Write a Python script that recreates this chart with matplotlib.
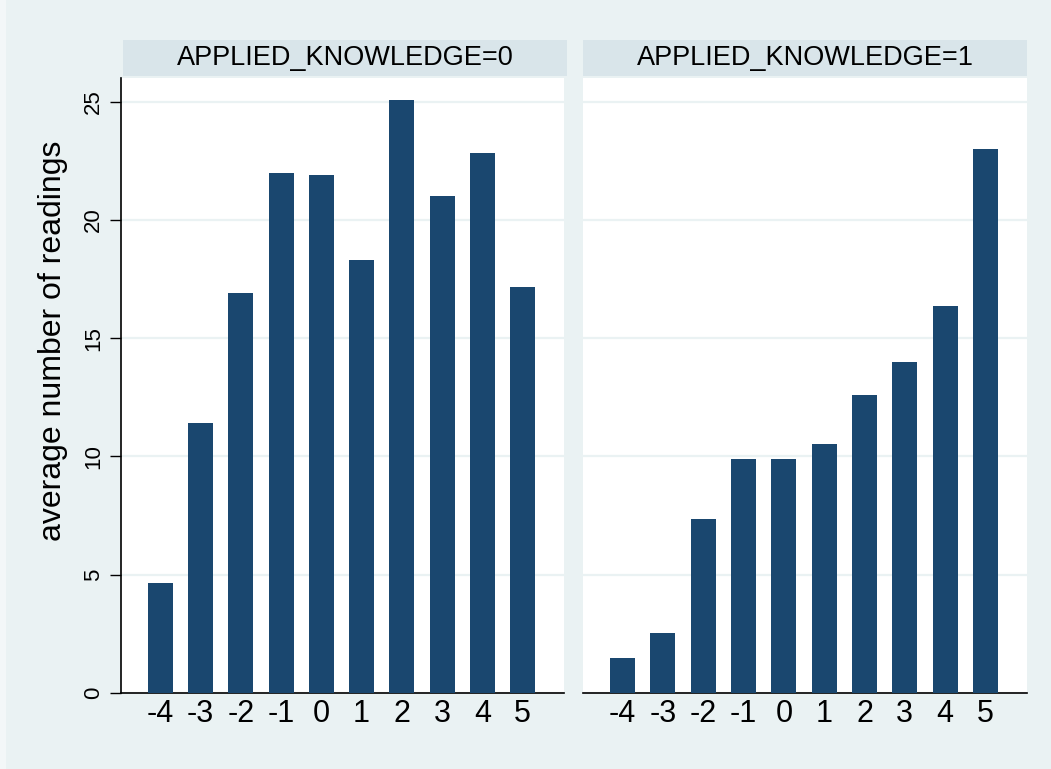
import matplotlib
matplotlib.use('Agg')
import matplotlib.pyplot as plt
import matplotlib.patches as patches

plt.rcParams['font.family'] = ['Liberation Sans', 'DejaVu Sans']

# 数据: 两个分组的平均阅读次数
categories = [-4, -3, -2, -1, 0, 1, 2, 3, 4, 5]
readings_k0 = [4.65, 11.42, 16.91, 22.0, 21.91, 18.29, 25.05, 21.0, 22.84, 17.15]
readings_k1 = [1.48, 2.54, 7.36, 9.90, 9.90, 10.53, 12.58, 13.99, 16.38, 22.98]
panel_titles = ['APPLIED_KNOWLEDGE=0', 'APPLIED_KNOWLEDGE=1']
y_ticks = [0, 5, 10, 15, 20, 25]

bg = '#EAF2F3'
strip = '#D9E5EA'
navy = '#1A476F'
W, H = 1051, 769

fig = plt.figure(figsize=(W / 100, H / 100), dpi=100, facecolor=bg)
# 左边一条很窄的浅色边
fig.patches.append(patches.Rectangle((0, 0), 6 / W, 1, transform=fig.transFigure,
                                     facecolor='#F3F7F8', edgecolor='none'))


def px(x0, y0, x1, y1):
    # 像素坐标 -> figure 比例
    return [x0 / W, (H - y1) / H, (x1 - x0) / W, (y1 - y0) / H]


panels = [(121, 564, readings_k0), (583, 1027, readings_k1)]
for i, (x0, x1, vals) in enumerate(panels):
    ax = fig.add_axes(px(x0, 78, x1, 693), facecolor='white')
    ax.bar(categories, vals, width=0.62, color=navy, zorder=3)
    ax.set_xlim(-4.98, 6.03)
    ax.set_ylim(0, 26)
    ax.set_yticks(y_ticks)
    ax.grid(axis='y', color=bg, linewidth=1.6, zorder=1)
    ax.set_xticks(categories)
    ax.set_xticklabels([str(c) for c in categories], fontsize=22)
    ax.tick_params(axis='x', length=0, pad=4)
    for s in ['top', 'right']:
        ax.spines[s].set_visible(False)
    ax.spines['bottom'].set_linewidth(1.2)
    if i == 0:
        ax.spines['left'].set_linewidth(1.2)
        ax.tick_params(axis='y', length=8, width=1.0, pad=4)
        ax.set_yticklabels([str(t) for t in y_ticks], fontsize=16,
                           rotation=90, va='center')
        ax.set_ylabel('average number of readings', fontsize=23)
        ax.yaxis.set_label_coords(-0.12, 0.572)
    else:
        ax.spines['left'].set_visible(False)
        ax.tick_params(axis='y', length=0, labelleft=False)

    hx = fig.add_axes(px(x0 + 2 if i == 0 else x0, 40, x1 + 3 if i == 0 else x1, 76),
                      facecolor=strip)
    hx.set_xticks([])
    hx.set_yticks([])
    for s in hx.spines.values():
        s.set_visible(False)
    hx.text(0.5, 0.5, panel_titles[i], ha='center', va='center',
            fontsize=19.5, transform=hx.transAxes)

fig.savefig('out.png', dpi=100, facecolor=bg)
